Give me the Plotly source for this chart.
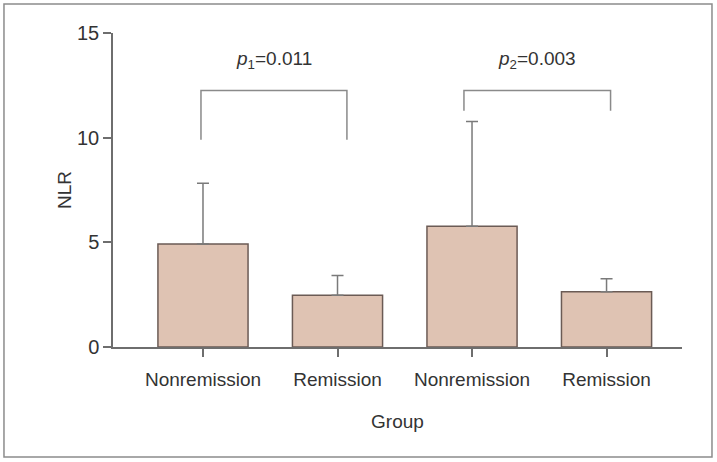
import plotly.graph_objects as go

# Data
categories = ["Nonremission", "Remission", "Nonremission", "Remission"]
means = [4.92, 2.47, 5.77, 2.64]
sds = [2.90, 0.94, 5.00, 0.62]
y_ticks = [0, 5, 10, 15]

# Significance brackets: [left x, right x, top y, left-leg bottom, right-leg bottom]
bracket_labels = ["<i>p</i><sub>1</sub>=0.011", "<i>p</i><sub>2</sub>=0.003"]
bracket_x0 = [-0.015, 1.94]
bracket_x1 = [1.07, 3.03]
bracket_top = [12.25, 12.25]
bracket_bottom = [9.9, 11.28]

xpos = list(range(len(categories)))
FONT = "Liberation Sans"
TXT = "#333333"
AX = "#6e6e6e"

fig = go.Figure()
fig.add_trace(go.Bar(
    x=xpos, y=means, width=0.67,
    marker=dict(color="#dfc3b3", line=dict(color="#6b5b55", width=1.5)),
    error_y=dict(type="data", array=sds, arrayminus=[0]*len(sds), symmetric=False,
                 color="#7a7a7a", thickness=1.5, width=6),
    showlegend=False,
))

shapes = []
annotations = []
for lab, x0, x1, top, bot in zip(bracket_labels, bracket_x0, bracket_x1, bracket_top, bracket_bottom):
    shapes.append(dict(type="path", xref="x", yref="y",
                       path=f"M {x0},{bot} L {x0},{top} L {x1},{top} L {x1},{bot}",
                       line=dict(color="#8a8a8a", width=1.5)))
    annotations.append(dict(x=(x0 + x1) / 2, y=13.7, xref="x", yref="y", text=lab,
                            showarrow=False, font=dict(family=FONT, size=19, color=TXT)))

# outer frame
shapes.append(dict(type="rect", xref="paper", yref="paper",
                   x0=-0.1916, x1=1.0527, y0=-0.3503, y1=1.0924,
                   line=dict(color="#8c8c8c", width=1.5), layer="below"))

fig.update_layout(
    width=717, height=462,
    margin=dict(l=113, r=35, t=33, b=115),
    paper_bgcolor="white", plot_bgcolor="white",
    font=dict(family=FONT, size=19, color=TXT),
    shapes=shapes, annotations=annotations,
)
fig.update_xaxes(
    range=[-0.669, 3.561], tickmode="array", tickvals=xpos, ticktext=categories,
    showline=True, linecolor=AX, linewidth=1.5, ticks="outside", ticklen=8,
    tickcolor=AX, tickwidth=1.5, showgrid=False, zeroline=False,
    ticklabelstandoff=6,
    tickfont=dict(family=FONT, size=19, color=TXT),
    title=dict(text="Group", font=dict(family=FONT, size=19, color=TXT), standoff=26),
)
fig.update_yaxes(
    range=[0, 15], tickmode="array", tickvals=y_ticks,
    showline=True, linecolor=AX, linewidth=1.5, ticks="outside", ticklen=8,
    tickcolor=AX, tickwidth=1.5, showgrid=False, zeroline=False,
    tickfont=dict(family=FONT, size=20, color=TXT),
    title=dict(text="NLR", font=dict(family=FONT, size=19, color=TXT), standoff=0),
)

fig.write_html("out.html", config={"displayModeBar": False},
               post_script="document.body.style.margin='0';")
